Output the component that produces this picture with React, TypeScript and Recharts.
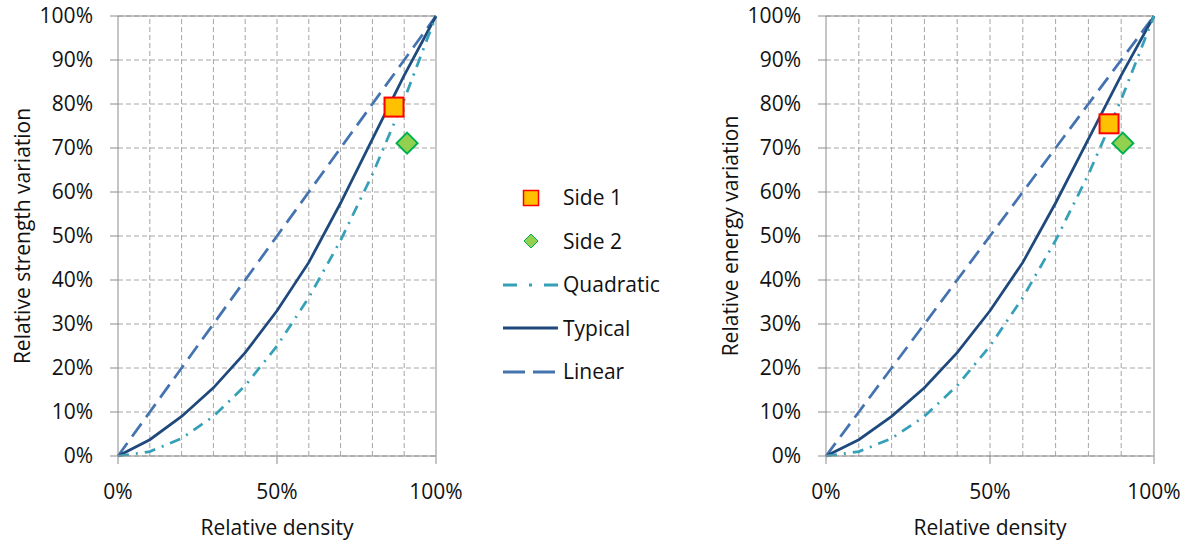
import {
  ComposedChart,
  CartesianGrid,
  Label,
  Legend,
  Line,
  ReferenceLine,
  Scatter,
  XAxis,
  YAxis,
} from "recharts";

const density = [0, 0.1, 0.2, 0.3, 0.4, 0.5, 0.6, 0.7, 0.8, 0.9, 1];
const linearValues = [0, 0.1, 0.2, 0.3, 0.4, 0.5, 0.6, 0.7, 0.8, 0.9, 1];
const typicalValues = [0, 0.037, 0.09, 0.155, 0.235, 0.33, 0.44, 0.575, 0.72, 0.865, 1];
const quadraticValues = [0, 0.01, 0.04, 0.09, 0.16, 0.25, 0.36, 0.49, 0.64, 0.81, 1];

const strengthSide1 = [{ x: 0.868, v: 0.793 }];
const strengthSide2 = [{ x: 0.909, v: 0.711 }];
const energySide1 = [{ x: 0.863, v: 0.755 }];
const energySide2 = [{ x: 0.905, v: 0.711 }];

const xTicks = [0, 0.5, 1];
const yTicks = [0, 0.1, 0.2, 0.3, 0.4, 0.5, 0.6, 0.7, 0.8, 0.9, 1];
const xGridSteps = [0.1, 0.2, 0.3, 0.4, 0.5, 0.6, 0.7, 0.8, 0.9];

const rows = density.map((x, i) => ({
  x,
  linear: linearValues[i],
  typical: typicalValues[i],
  quadratic: quadraticValues[i],
}));

const FONT = "'Open Sans', sans-serif";
const FS = 21;
const AXIS = "#8c8c8c";
const GRID = "#a6a6a6";
const C_LINEAR = "#4473b0";
const C_TYPICAL = "#1f497d";
const C_QUAD = "#35a0b8";

const pct = (v: number) => `${Math.round(v * 100)}%`;

const SquareMarker = (props: any) => {
  const { cx, cy } = props;
  if (cx == null || cy == null) return null;
  return (
    <rect x={cx - 9.5} y={cy - 9.5} width={19} height={19} fill="#ffc000" stroke="#ff0000" strokeWidth={2} />
  );
};

const DiamondMarker = (props: any) => {
  const { cx, cy } = props;
  if (cx == null || cy == null) return null;
  const r = 10.5;
  return (
    <path
      d={`M${cx},${cy - r}L${cx + r},${cy}L${cx},${cy + r}L${cx - r},${cy}Z`}
      fill="#92d050"
      stroke="#00b050"
      strokeWidth={2}
    />
  );
};

const legendItems = [
  { name: "Side 1", kind: "square" },
  { name: "Side 2", kind: "diamond" },
  { name: "Quadratic", kind: "line", color: C_QUAD, dash: "14 12 3 12" },
  { name: "Typical", kind: "line", color: C_TYPICAL, dash: undefined },
  { name: "Linear", kind: "line", color: C_LINEAR, dash: "22 8" },
];

const LegendBox = () => (
  <div style={{ fontFamily: FONT, fontSize: FS, color: "#111" }}>
    {legendItems.map((it) => (
      <div key={it.name} style={{ display: "flex", alignItems: "center", height: 43.5 }}>
        <svg width={55} height={24} style={{ marginRight: 5 }}>
          {it.kind === "square" && (
            <rect x={20.5} y={4.5} width={15} height={15} fill="#ffc000" stroke="#ff0000" strokeWidth={1.5} />
          )}
          {it.kind === "diamond" && (
            <path d="M28,5L35,12L28,19L21,12Z" fill="#92d050" stroke="#00b050" strokeWidth={1} />
          )}
          {it.kind === "line" && (
            <line x1={0} y1={12} x2={55} y2={12} stroke={it.color} strokeWidth={3} strokeDasharray={it.dash} />
          )}
        </svg>
        <span style={{ lineHeight: 1 }}>{it.name}</span>
      </div>
    ))}
  </div>
);

const tickStyle = { fontFamily: FONT, fontSize: FS, fill: "#111" };

const Panel = ({
  width,
  rightMargin,
  yTitle,
  side1,
  side2,
  withLegend,
}: {
  width: number;
  rightMargin: number;
  yTitle: string;
  side1: { x: number; v: number }[];
  side2: { x: number; v: number }[];
  withLegend?: boolean;
}) => (
  <ComposedChart
    width={width}
    height={544}
    data={rows}
    margin={{ top: 16, right: rightMargin, left: 0, bottom: 0 }}
  >
    <CartesianGrid vertical={false} stroke={GRID} strokeDasharray="5 3" />
    {xGridSteps.map((g) => (
      <ReferenceLine key={g} x={g} stroke={GRID} strokeDasharray="5 3" />
    ))}
    <ReferenceLine x={1} stroke={AXIS} />
    <ReferenceLine y={1} stroke={AXIS} />
    <XAxis
      type="number"
      dataKey="x"
      domain={[0, 1]}
      ticks={xTicks}
      tickFormatter={pct}
      height={88}
      stroke={AXIS}
      tickSize={8}
      tickMargin={20}
      tick={tickStyle}
      interval={0}
    >
      <Label
        content={(p: any) => {
          const vb = p.viewBox;
          return (
            <text
              x={vb.x + vb.width / 2}
              y={527}
              textAnchor="middle"
              dominantBaseline="central"
              style={{ fontFamily: FONT, fontSize: FS, fill: "#111" }}
            >
              Relative density
            </text>
          );
        }}
      />
    </XAxis>
    <YAxis
      type="number"
      domain={[0, 1]}
      ticks={yTicks}
      tickFormatter={pct}
      width={118}
      stroke={AXIS}
      tickSize={8}
      tickMargin={17}
      tick={tickStyle}
      interval={0}
    >
      <Label
        content={(p: any) => {
          const vb = p.viewBox;
          const cx = vb.x + 22;
          const cy = vb.y + vb.height / 2;
          return (
            <text
              x={cx}
              y={cy}
              transform={`rotate(-90 ${cx} ${cy})`}
              textAnchor="middle"
              dominantBaseline="central"
              style={{ fontFamily: FONT, fontSize: FS, fill: "#111" }}
            >
              {yTitle}
            </text>
          );
        }}
      />
    </YAxis>
    <Line dataKey="linear" name="Linear" type="linear" stroke={C_LINEAR} strokeWidth={2.75} strokeDasharray="16 8" dot={false} isAnimationActive={false} />
    <Line dataKey="typical" name="Typical" type="linear" stroke={C_TYPICAL} strokeWidth={2.75} dot={false} isAnimationActive={false} />
    <Line dataKey="quadratic" name="Quadratic" type="linear" stroke={C_QUAD} strokeWidth={2.75} strokeDasharray="11 7 2 7" dot={false} isAnimationActive={false} />
    <Scatter data={side1} dataKey="v" name="Side 1" shape={SquareMarker} isAnimationActive={false} />
    <Scatter data={side2} dataKey="v" name="Side 2" shape={DiamondMarker} isAnimationActive={false} />
    {withLegend && (
      <Legend
        layout="vertical"
        align="center"
        verticalAlign="middle"
        content={() => <LegendBox />}
        wrapperStyle={{ position: "absolute", left: 503, top: 176, width: 200 }}
      />
    )}
  </ComposedChart>
);

export default function App() {
  return (
    <div style={{ position: "absolute", left: 0, top: 0, width: 1191, height: 544, background: "#fff" }}>
      <div style={{ position: "absolute", left: 0, top: 0 }}>
        <Panel width={700} rightMargin={264} yTitle="Relative strength variation" side1={strengthSide1} side2={strengthSide2} withLegend />
      </div>
      <div style={{ position: "absolute", left: 708, top: 0 }}>
        <Panel width={483} rightMargin={37} yTitle="Relative energy variation" side1={energySide1} side2={energySide2} />
      </div>
    </div>
  );
}
